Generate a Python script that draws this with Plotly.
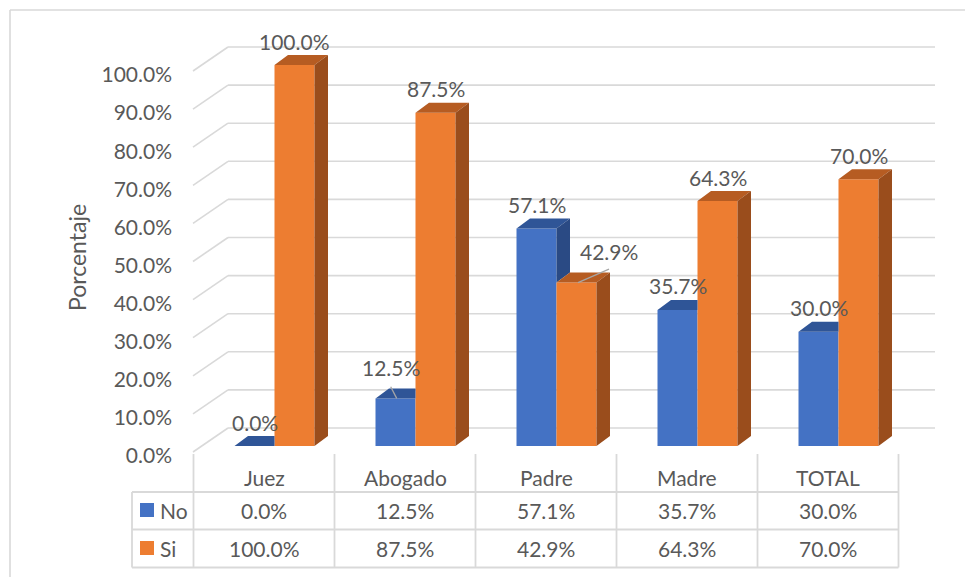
import plotly.graph_objects as go

# ---------------- data ----------------
categories = ["Juez", "Abogado", "Padre", "Madre", "TOTAL"]
no_vals = [0.0, 12.5, 57.1, 35.7, 30.0]
si_vals = [100.0, 87.5, 42.9, 64.3, 70.0]
series_names = ["No", "Si"]
tick_vals = [0, 10, 20, 30, 40, 50, 60, 70, 80, 90, 100]
y_title = "Porcentaje"

# ---------------- styles / geometry (page pixel coordinates) ----------------
OFF = 8                       # page body margin
W, H = 965, 569               # figure size
CAT_PX = 141.0                # pixels per category
X0_PX = 274.5                 # page x of category 0 bar-pair centre
PX_PER_PCT = 3.81             # pixels per 1 %
Y0_PX = 446.0                 # page y of 0 % on the bar front plane

def xd(px):
    return (px - X0_PX) / CAT_PX

def yd(py):
    return (Y0_PX - py) / PX_PER_PCT

BW = 40.0 / CAT_PX            # bar width
DX = 13.5 / CAT_PX            # bar depth (x)
DY = 10.0 / PX_PER_PCT        # bar depth (y)

BLUE, BLUE_TOP, BLUE_SIDE = "#4472C4", "#2F5597", "#2A4A84"
ORANGE, ORANGE_TOP, ORANGE_SIDE = "#ED7D31", "#B65C22", "#9A4D1C"
GRID = "#D9D9D9"
TXT = "#595959"
FONT = "Lato"
FS = 21

label_nudge_x = [[0, -4.5, 0, 0, 0], [0, 0, 32.5, 0, 0]]
label_nudge_y = [[0, 6.4, 0, 0, 0], [0, 0, 7.0, 0, 0]]

fig = go.Figure()

# front faces as bars
fig.add_trace(go.Bar(x=list(range(len(categories))), y=no_vals, width=BW, offset=-BW,
                     marker=dict(color=BLUE, line=dict(width=0)), name=series_names[0],
                     showlegend=False, hovertemplate="%{y:.1f}%<extra>No</extra>"))
fig.add_trace(go.Bar(x=list(range(len(categories))), y=si_vals, width=BW, offset=0,
                     marker=dict(color=ORANGE, line=dict(width=0)), name=series_names[1],
                     showlegend=False, hovertemplate="%{y:.1f}%<extra>Si</extra>"))

# 3D top / side faces
bt_x, bt_y, bs_x, bs_y, ot_x, ot_y, os_x, os_y = [], [], [], [], [], [], [], []
for i, (hb, ho) in enumerate(zip(no_vals, si_vals)):
    L, R = i - BW, i
    if ho > hb:
        bt_x += [L, R, R, L + DX, L, None]
        bt_y += [hb, hb, hb + DY, hb + DY, hb, None]
    else:
        bt_x += [L, R, R + DX, L + DX, L, None]
        bt_y += [hb, hb, hb + DY, hb + DY, hb, None]
        bs_x += [R, R, R + DX, R + DX, R, None]
        bs_y += [ho, hb, hb + DY, ho + DY, ho, None]
    L2, R2 = i, i + BW
    ot_x += [L2, R2, R2 + DX, L2 + DX, L2, None]
    ot_y += [ho, ho, ho + DY, ho + DY, ho, None]
    os_x += [R2, R2, R2 + DX, R2 + DX, R2, None]
    os_y += [0, ho, ho + DY, DY, 0, None]

for xs, ys, col in [(bt_x, bt_y, BLUE_TOP), (bs_x, bs_y, BLUE_SIDE),
                    (ot_x, ot_y, ORANGE_TOP), (os_x, os_y, ORANGE_SIDE)]:
    if xs:
        fig.add_trace(go.Scatter(x=xs, y=ys, mode="lines", fill="toself", fillcolor=col,
                                 line=dict(width=0, color=col), hoverinfo="skip",
                                 showlegend=False))

# dummy trace for tick-label axis
fig.add_trace(go.Scatter(x=[None], y=[None], yaxis="y2", showlegend=False, hoverinfo="skip"))

shapes = []
# back wall gridlines + side diagonals
BACK_L, BACK_R = xd(228), xd(935)
FRONT_L = xd(193)
BACK_DY, FRONT_DY = yd(428), yd(452)
for v in tick_vals:
    shapes.append(dict(type="line", xref="x", yref="y", x0=BACK_L, x1=BACK_R,
                       y0=v + BACK_DY, y1=v + BACK_DY, line=dict(color=GRID, width=1.6),
                       layer="below"))
    shapes.append(dict(type="line", xref="x", yref="y", x0=FRONT_L, x1=BACK_L,
                       y0=v + FRONT_DY, y1=v + BACK_DY, line=dict(color=GRID, width=1.6),
                       layer="below"))

# chart outer border (top and left)
shapes.append(dict(type="line", xref="x", yref="y", x0=xd(10), x1=xd(990), y0=yd(10), y1=yd(10),
                   line=dict(color=GRID, width=1.6)))
shapes.append(dict(type="line", xref="x", yref="y", x0=xd(10), x1=xd(10), y0=yd(10), y1=yd(600),
                   line=dict(color=GRID, width=1.6)))

# data table
n = len(categories)
col_edge = [xd(193.5 + CAT_PX * k) for k in range(n + 1)]
tbl_left = xd(132)
row_top, row1, row2, row3 = yd(454), yd(492), yd(529.5), yd(567.5)
for k, xe in enumerate(col_edge):
    shapes.append(dict(type="line", xref="x", yref="y", x0=xe, x1=xe, y0=row_top, y1=row3,
                       line=dict(color=GRID, width=1.8)))
shapes.append(dict(type="line", xref="x", yref="y", x0=tbl_left, x1=tbl_left, y0=row1, y1=row3,
                   line=dict(color=GRID, width=1.8)))
for ry in (row1, row2, row3):
    shapes.append(dict(type="line", xref="x", yref="y", x0=tbl_left, x1=col_edge[-1], y0=ry, y1=ry,
                       line=dict(color=GRID, width=1.8)))

annotations = []
row_centers = [yd(510), yd(548)]
col_centers = [(col_edge[k] + col_edge[k + 1]) / 2 for k in range(n)]
for k, c in enumerate(categories):
    annotations.append(dict(x=col_centers[k], y=yd(477), text=c, showarrow=False,
                            font=dict(family=FONT, size=FS, color=TXT)))
for s, (vals, col) in enumerate([(no_vals, BLUE), (si_vals, ORANGE)]):
    for k, v in enumerate(vals):
        annotations.append(dict(x=col_centers[k], y=row_centers[s], text=f"{v:.1f}%",
                                showarrow=False, font=dict(family=FONT, size=FS, color=TXT)))
    shapes.append(dict(type="rect", xref="x", yref="y", x0=xd(140), x1=xd(154),
                       y0=row_centers[s] - 7 / PX_PER_PCT, y1=row_centers[s] + 7 / PX_PER_PCT,
                       fillcolor=col, line=dict(width=0)))
    annotations.append(dict(x=xd(158), y=row_centers[s], text=series_names[s], showarrow=False,
                            xanchor="left", font=dict(family=FONT, size=FS, color=TXT)))

# data labels
for s, vals in enumerate([no_vals, si_vals]):
    for k, v in enumerate(vals):
        cx = k - BW / 2 if s == 0 else k + BW / 2
        annotations.append(dict(x=cx, y=v + DY, text=f"{v:.1f}%", showarrow=False,
                                xshift=label_nudge_x[s][k], yshift=14 + label_nudge_y[s][k],
                                font=dict(family=FONT, size=FS, color=TXT)))

# leader lines for displaced labels
shapes.append(dict(type="line", xref="x", yref="y", xsizemode="pixel", ysizemode="pixel",
                   xanchor=1 - BW / 2, yanchor=no_vals[1], x0=1.2, y0=0, x1=-4.8, y1=11.7,
                   line=dict(color="#A6A6A6", width=1.3)))
shapes.append(dict(type="line", xref="x", yref="y", xsizemode="pixel", ysizemode="pixel",
                   xanchor=2 + BW / 2, yanchor=si_vals[2], x0=1.5, y0=0, x1=32.5, y1=13.4,
                   line=dict(color="#A6A6A6", width=1.3)))

# y axis title
annotations.append(dict(x=xd(77), y=yd(258), text=y_title, textangle=-90, showarrow=False,
                        font=dict(family=FONT, size=23, color=TXT)))

fig.update_layout(
    width=W, height=H,
    margin=dict(l=0, r=0, t=0, b=0),
    plot_bgcolor="white", paper_bgcolor="white",
    barmode="overlay",
    xaxis=dict(range=[xd(OFF), xd(OFF + W)], visible=False, fixedrange=True),
    yaxis=dict(range=[yd(OFF + H), yd(OFF)], visible=False, fixedrange=True),
    yaxis2=dict(overlaying="y", anchor="free", position=(172 - OFF) / W, side="left",
                range=[(456 - OFF - H) / PX_PER_PCT, (456 - OFF) / PX_PER_PCT],
                tickvals=tick_vals, ticktext=[f"{v:.1f}%" for v in tick_vals],
                showgrid=False, zeroline=False, showline=False, ticks="",
                tickfont=dict(family=FONT, size=FS, color=TXT), fixedrange=True),
    shapes=shapes,
    annotations=annotations,
    showlegend=False,
)

fig.write_html("out.html")
